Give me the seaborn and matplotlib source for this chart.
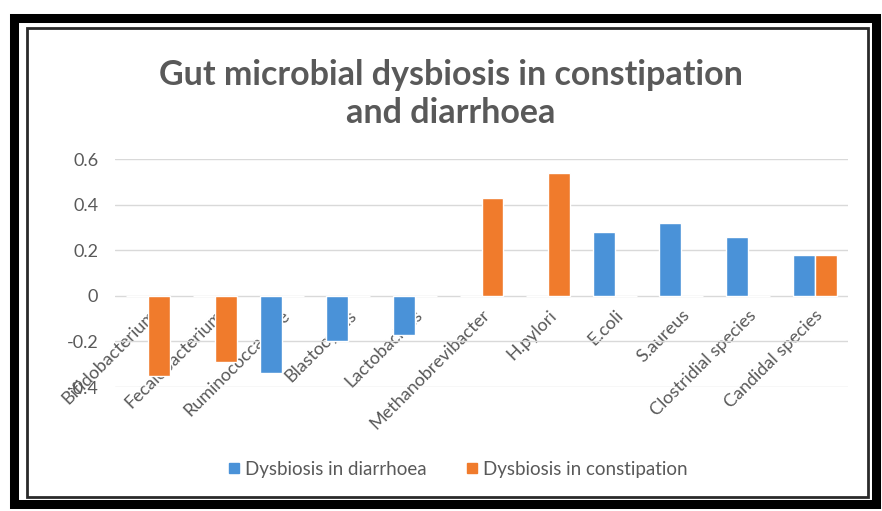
import matplotlib
matplotlib.use("Agg")
import matplotlib.pyplot as plt
from matplotlib.patches import Rectangle
from matplotlib.lines import Line2D
import pandas as pd
import seaborn as sns

categories = ["Bifidobacterium", "Fecalobacterium", "Ruminococcaceae", "Blastocystis",
              "Lactobacillus", "Methanobrevibacter", "H.pylori", "E.coli", "S.aureus",
              "Clostridial species", "Candidal species"]
diarrhoea = [0, 0, -0.34, -0.20, -0.17, 0, 0, 0.28, 0.32, 0.26, 0.18]
constipation = [-0.35, -0.29, 0, 0, 0, 0.43, 0.54, 0, 0, 0, 0.18]
series_names = ["Dysbiosis in diarrhoea", "Dysbiosis in constipation"]
y_ticks = [-0.4, -0.2, 0, 0.2, 0.4, 0.6]
y_tick_labels = ["-0.4", "-0.2", "0", "0.2", "0.4", "0.6"]
title = "Gut microbial dysbiosis in constipation\nand diarrhoea"

BLUE = "#4a92d8"
ORANGE = "#f07b2c"
TEXT = "#595959"
GRID = "#d9d9d9"

sns.set_theme(style="white")
plt.rcParams["font.family"] = ["Lato", "DejaVu Sans"]
plt.rcParams["axes.unicode_minus"] = False

df = pd.DataFrame({
    "category": categories * 2,
    "value": diarrhoea + constipation,
    "series": [series_names[0]] * len(categories) + [series_names[1]] * len(categories),
})

W, H = 882, 511
fig = plt.figure(figsize=(W / 100, H / 100), dpi=100)
fig.patch.set_facecolor("white")

def fx(px):
    return px / W

def fy(py):
    return 1 - py / H

ax = fig.add_axes([fx(115), fy(387), fx(848) - fx(115), fy(159) - fy(387)])
sns.barplot(data=df, x="category", y="value", hue="series", order=categories,
            hue_order=series_names, palette=[BLUE, ORANGE], width=0.66,
            saturation=1, ax=ax, legend=False, zorder=2)

ax.set_ylim(-0.4, 0.6)
ax.set_xlim(-0.5, len(categories) - 0.5)
ax.set_yticks(y_ticks)
ax.set_yticklabels(y_tick_labels)
ax.set_axisbelow(True)
ax.yaxis.grid(True, color=GRID, linewidth=1.0)
ax.xaxis.grid(False)
for s in ax.spines.values():
    s.set_visible(False)
ax.spines["bottom"].set_position(("data", 0))
ax.set_xlabel("")
ax.set_ylabel("")
ax.tick_params(axis="y", length=0, pad=12, labelsize=13, labelcolor=TEXT)
ax.tick_params(axis="x", length=0, pad=8, labelsize=13, labelcolor=TEXT)
ax.set_xticks(range(len(categories)))
ax.set_xticklabels(categories, rotation=45, ha="right", va="top",
                   rotation_mode="anchor")

line1, line2 = title.split("\n")
fig.text(fx(451), fy(75), line1, ha="center", va="center",
         fontsize=24.5, color=TEXT, fontweight="bold")
fig.text(fx(451), fy(113), line2, ha="center", va="center",
         fontsize=24.5, color=TEXT, fontweight="bold")

handles = [Line2D([], [], marker="s", linestyle="none", markersize=7,
                  markerfacecolor=c, markeredgecolor=c) for c in (BLUE, ORANGE)]
fig.legend(handles, series_names, loc="center", bbox_to_anchor=(fx(457), fy(469)),
           ncol=2, frameon=False, fontsize=13.5, labelcolor=TEXT,
           handletextpad=0.2, columnspacing=2.0, handlelength=0.8)

# double border around the chart
fig.patches.append(Rectangle((fx(13.5), fy(504)), fx(876) - fx(13.5), fy(17.5) - fy(504),
                             transform=fig.transFigure, fill=False,
                             edgecolor="black", linewidth=6.5, zorder=5))
fig.patches.append(Rectangle((fx(27), fy(497)), fx(868) - fx(27), fy(28) - fy(497),
                             transform=fig.transFigure, fill=False,
                             edgecolor="#2a2a2a", linewidth=2, zorder=5))

fig.savefig("out.png", dpi=100, facecolor="white")
